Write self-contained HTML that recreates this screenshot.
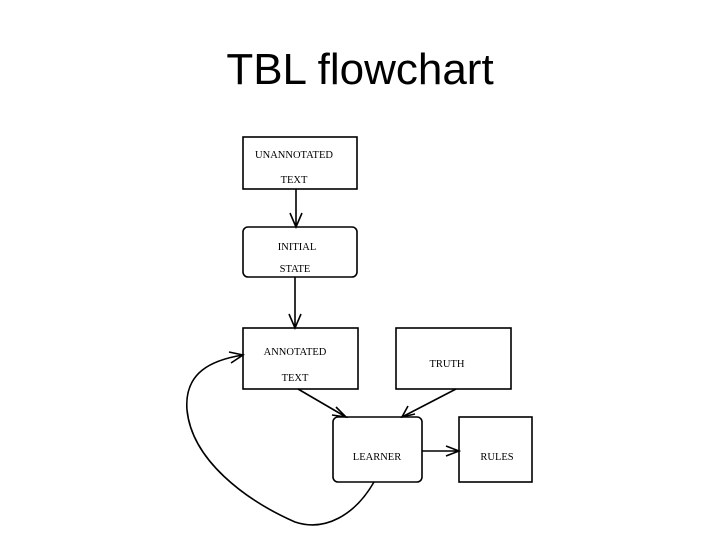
<!DOCTYPE html>
<html><head><style>
body{margin:0;width:720px;height:540px;background:#fff;overflow:hidden}
</style></head><body>
<svg width="720" height="540" xmlns="http://www.w3.org/2000/svg">
<text x="360" y="84" text-anchor="middle" font-family="Liberation Sans, sans-serif" font-size="44">TBL flowchart</text>
<g fill="none" stroke="#000" stroke-width="1.6">
<rect x="243" y="137" width="114" height="52"/>
<rect x="243" y="227" width="114" height="50" rx="5"/>
<rect x="243" y="328" width="115" height="61"/>
<rect x="396" y="328" width="115" height="61"/>
<rect x="333" y="417" width="89" height="65" rx="5"/>
<rect x="459" y="417" width="73" height="65"/>
<path d="M296 189 V227 M290 213 L296 227 L302 213"/>
<path d="M295 277 V328 M289 314 L295 328 L301 314"/>
<path d="M298 389 L346 417 M332 415 L346 417 L336 407"/>
<path d="M456 389 L402 417 M408 406 L402 417 L415 414"/>
<path d="M422 451 L459 451 M446 446 L459 451 L446 456"/>
<path d="M374 482 C355 515 325 532 295 522 C245 500 192 460 187 410 C184 372 212 360 243 355 M229 352 L243 355 L231 363"/>
</g>
<g font-family="Liberation Serif, serif" font-size="10.5" text-anchor="middle">
<text x="294" y="158">UNANNOTATED</text>
<text x="294" y="183">TEXT</text>
<text x="297" y="250">INITIAL</text>
<text x="295" y="272">STATE</text>
<text x="295" y="355">ANNOTATED</text>
<text x="295" y="381">TEXT</text>
<text x="447" y="367">TRUTH</text>
<text x="377" y="460">LEARNER</text>
<text x="497" y="460">RULES</text>
</g>
</svg>
</body></html>
